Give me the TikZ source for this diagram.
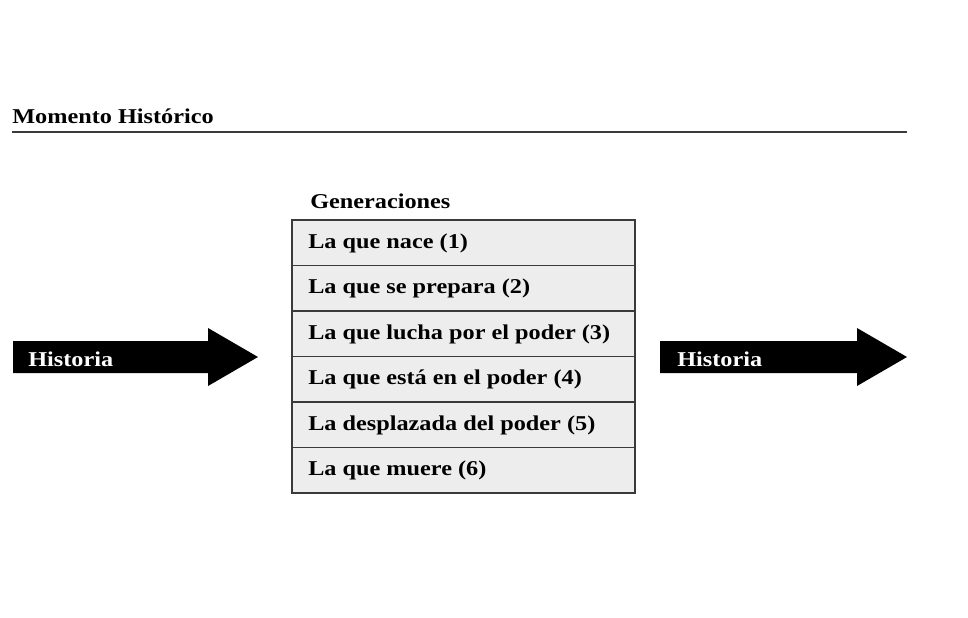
\documentclass[tikz,border=0pt]{standalone}
\usepackage{fontspec}
\setmainfont{Liberation Serif}[FakeStretch=1.15]
\usepackage{xcolor}
\definecolor{rowgray}{HTML}{EDEDED}
\definecolor{edgegray}{HTML}{3A3A3A}

\begin{document}
\begin{tikzpicture}[x=0.025cm,y=-0.025cm,
  txt/.style={font=\fontsize{15}{18}\selectfont\bfseries, inner sep=0pt},
  histtxt/.style={txt, text=white},
  rowbox/.style={draw=edgegray, fill=rowgray, line width=0.8pt}]
\useasboundingbox (0,0) rectangle (968,618);

\node[txt, anchor=base west] (titulo) at (12,123) {Momento Histórico};
\draw[edgegray, line width=1.1pt] (12,132) -- (907,132);

\node[txt, anchor=base west] (gen) at (310,208) {Generaciones};

\foreach \t [count=\i] in {La que nace (1), La que se prepara (2), La que lucha por el poder (3), La que está en el poder (4), La desplazada del poder (5), La que muere (6)}{
  \draw[rowbox] (292,{220+45.5*(\i-1)}) rectangle (635,{220+45.5*\i});
  \node[txt, anchor=base west] (gen\i) at (308,{220+45.5*(\i-1)+28}) {\t};
}

\fill[black] (13,341) -- (208,341) -- (208,328) -- (258,357) -- (208,386) -- (208,373) -- (13,373) -- cycle;
\node[histtxt, anchor=base west] (histizq) at (28,366) {Historia};

\fill[black] (660,341) -- (857,341) -- (857,328) -- (907,357) -- (857,386) -- (857,373) -- (660,373) -- cycle;
\node[histtxt, anchor=base west] (histder) at (677,366) {Historia};
\end{tikzpicture}
\end{document}
